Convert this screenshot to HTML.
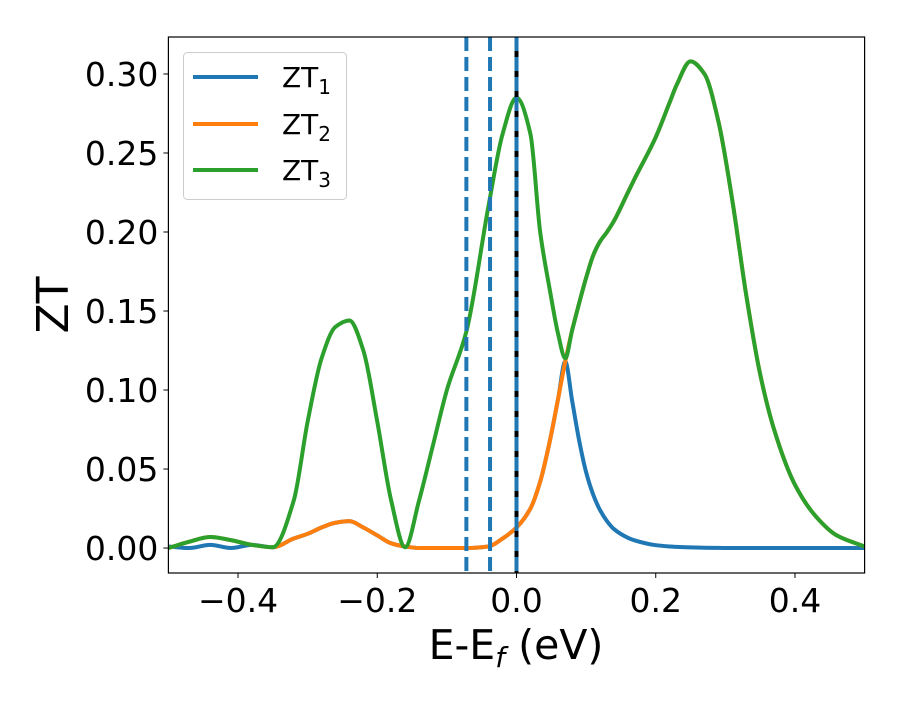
<!DOCTYPE html>
<html><head><meta charset="utf-8"><style>
body{margin:0;background:#fff;}
svg text{font-family:"DejaVu Sans","Liberation Sans",sans-serif;fill:#000;}
</style></head><body>
<svg id="chart" width="900" height="700" viewBox="0 0 900 700" xmlns="http://www.w3.org/2000/svg">
<rect x="0" y="0" width="900" height="700" fill="#fff"/>
<g id="plot"></g>
<g id="axes"></g>
</svg>
<script>
const xs = [-0.5,-0.47,-0.44,-0.41,-0.38,-0.35,-0.32,-0.30,-0.28,-0.26,-0.24,-0.22,-0.20,-0.18,-0.16,-0.14,-0.12,-0.10,-0.072,-0.04,-0.02,0.0,0.02,0.034,0.048,0.06,0.07,0.08,0.09,0.10,0.11,0.12,0.13,0.14,0.16,0.17,0.20,0.22,0.23,0.25,0.27,0.29,0.31,0.33,0.35,0.37,0.40,0.43,0.46,0.5];
const zt3 = [0.000,0.004,0.007,0.005,0.002,0.0005,0.03,0.08,0.12,0.14,0.144,0.125,0.08,0.03,0.0005,0.03,0.065,0.10,0.137,0.217,0.262,0.285,0.262,0.20,0.163,0.135,0.120,0.138,0.155,0.171,0.185,0.194,0.20,0.207,0.225,0.234,0.26,0.282,0.293,0.308,0.30,0.27,0.22,0.16,0.11,0.075,0.04,0.02,0.008,0.001];
const zt2 = [0.000,0.004,0.007,0.005,0.002,0.0005,0.006,0.009,0.013,0.016,0.017,0.013,0.008,0.003,0.001,0.0,0.0,0.0,0.0,0.001,0.006,0.013,0.025,0.042,0.068,0.095,0.118,0.138,0.155,0.171,0.185,0.194,0.20,0.207,0.225,0.234,0.26,0.282,0.293,0.308,0.30,0.27,0.22,0.16,0.11,0.075,0.04,0.02,0.008,0.001];
const zt1 = [0.001,0.0,0.002,0.0,0.002,0.0005,0.006,0.009,0.013,0.016,0.017,0.013,0.008,0.003,0.001,0.0,0.0,0.0,0.0,0.001,0.006,0.013,0.025,0.042,0.068,0.095,0.118,0.093,0.068,0.048,0.034,0.024,0.017,0.012,0.0065,0.0048,0.0018,0.001,0.0007,0.0004,0.0002,0.0001,0.0,0.0,0.0,0.0,0.0,0.0,0.0,0.0];
const vlines = [-0.072,-0.038,0.0];
const xTicks = [-0.4,-0.2,0.0,0.2,0.4];
const xTickLabels = ["\u22120.4","\u22120.2","0.0","0.2","0.4"];
const yTicks = [0,0.05,0.10,0.15,0.20,0.25,0.30];
const yTickLabels = ["0.00","0.05","0.10","0.15","0.20","0.25","0.30"];

const L=168.4,R=864.6,T=37,B=573;
const xMin=-0.5,xMax=0.5,yMin=-0.0158,yMax=0.3234;
const X=v=>L+(v-xMin)/(xMax-xMin)*(R-L);
const Y=v=>B-(v-yMin)/(yMax-yMin)*(B-T);
const NS="http://www.w3.org/2000/svg";
const plot=document.getElementById('plot'), axes=document.getElementById('axes');
function mk(tag,attrs,parent){const e=document.createElementNS(NS,tag);for(const k in attrs)e.setAttribute(k,attrs[k]);parent.appendChild(e);return e;}
function pathFor(ys){
  const n=xs.length, d=[], m=new Array(n);
  for(let i=0;i<n-1;i++) d.push((ys[i+1]-ys[i])/(xs[i+1]-xs[i]));
  m[0]=d[0]; m[n-1]=d[n-2];
  for(let i=1;i<n-1;i++){
    if(d[i-1]*d[i]<=0) m[i]=0;
    else { const h0=xs[i]-xs[i-1],h1=xs[i+1]-xs[i],w1=2*h1+h0,w2=h1+2*h0; m[i]=(w1+w2)/(w1/d[i-1]+w2/d[i]); }
  }
  let s=`M${X(xs[0])},${Y(ys[0])}`;
  for(let i=0;i<n-1;i++){
    const h=xs[i+1]-xs[i];
    s+=` C${X(xs[i]+h/3)},${Y(ys[i]+m[i]*h/3)} ${X(xs[i+1]-h/3)},${Y(ys[i+1]-m[i+1]*h/3)} ${X(xs[i+1])},${Y(ys[i+1])}`;
  }
  return s;
}
const cp=mk('clipPath',{id:'cp'},plot);mk('rect',{x:L,y:T,width:R-L,height:B-T},cp);
const g=mk('g',{'clip-path':'url(#cp)'},plot);
const series=[[zt1,'#1f77b4','series-zt1'],[zt2,'#ff7f0e','series-zt2'],[zt3,'#2ca02c','series-zt3']];
series.forEach(([ys,c,n])=>{
  const e=mk('path',{d:pathFor(ys),fill:'none',stroke:c,'stroke-width':4,'stroke-linejoin':'round'},g);
  
  
});
const bl=mk('line',{x1:X(0),x2:X(0),y1:T,y2:B,stroke:'#000','stroke-width':4},g);


vlines.forEach((v,i)=>{
  const e=mk('line',{x1:X(v),x2:X(v),y1:T,y2:B,stroke:'#1f77b4','stroke-width':4,'stroke-dasharray':'14 6'},g);
  
  
});
mk('rect',{x:L,y:T,width:R-L,height:B-T,fill:'none',stroke:'#000','stroke-width':1.2},axes);
xTicks.forEach((v,i)=>{
  mk('line',{x1:X(v),x2:X(v),y1:B,y2:B+5,stroke:'#000','stroke-width':1},axes);
  const t=mk('text',{x:X(v),y:B+39,'font-size':33,'text-anchor':'middle'},axes);t.textContent=xTickLabels[i];
  
  
});
yTicks.forEach((v,i)=>{
  mk('line',{x1:L-5,x2:L,y1:Y(v),y2:Y(v),stroke:'#000','stroke-width':1},axes);
  const t=mk('text',{x:L-10,y:Y(v)+12,'font-size':33,'text-anchor':'end'},axes);t.textContent=yTickLabels[i];
  
  
});
</script>
<svg style="position:absolute;left:0;top:0" width="900" height="700">
<text x="516" y="659" font-size="41" text-anchor="middle">E-E<tspan font-size="28" dy="8" font-style="italic">f</tspan><tspan dy="-8"> (eV)</tspan></text>
<text transform="translate(68,305) rotate(-90)" font-size="44" text-anchor="middle">ZT</text>
<g>
<rect x="183.5" y="52.5" width="163" height="147" rx="4" fill="#fff" fill-opacity="0.8" stroke="#ccc" stroke-width="1"/>
<line x1="193" x2="258" y1="77" y2="77" stroke="#1f77b4" stroke-width="4"/>
<text x="282" y="87" font-size="28">ZT<tspan font-size="20" dy="7">1</tspan></text>
<line x1="193" x2="258" y1="124" y2="124" stroke="#ff7f0e" stroke-width="4"/>
<text x="282" y="134" font-size="28">ZT<tspan font-size="20" dy="7">2</tspan></text>
<line x1="193" x2="258" y1="170" y2="170" stroke="#2ca02c" stroke-width="4"/>
<text x="282" y="180" font-size="28">ZT<tspan font-size="20" dy="7">3</tspan></text>
</g>
</svg>
</body></html>
